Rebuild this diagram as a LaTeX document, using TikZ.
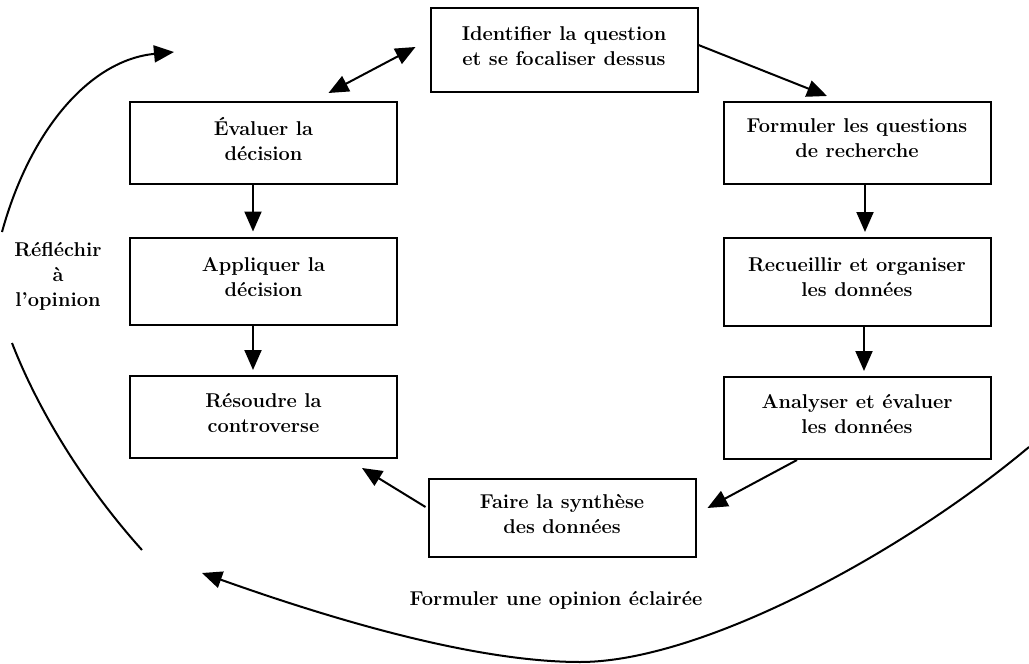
\documentclass[tikz,border=0pt]{standalone}
\usetikzlibrary{arrows.meta}
% strut that lifts a two-line box label slightly above the box centre
\newcommand{\liftpad}{\rule[-9pt]{0pt}{0pt}}
\begin{document}
\begin{tikzpicture}[x=1pt,y=-1pt,
  every node/.style={font=\fontsize{20}{25}\selectfont\bfseries},
  stepbox/.style={draw,line width=2pt,minimum width=267pt,minimum height=82pt,
    align=center,inner sep=0pt},
  label/.style={align=center,inner sep=0pt},
  arr/.style={line width=2pt,-{Triangle[length=20pt,width=17pt]}},
  darr/.style={line width=2pt,{Triangle[length=20pt,width=17pt]}-{Triangle[length=20pt,width=17pt]}},
  loop/.style={line width=2pt}]
\useasboundingbox (0,0) rectangle (1029,664);

% boxes of the research cycle
\node[stepbox,minimum height=84pt] (ident) at (564,50) {Identifier la question\\et se focaliser dessus\liftpad};
\node[stepbox] (eval)  at (263.5,143) {Évaluer la\\décision\liftpad};
\node[stepbox,minimum height=87pt] (appl) at (263.5,281) {Appliquer la\\décision\liftpad};
\node[stepbox] (reso)  at (263.5,417) {Résoudre la\\controverse\liftpad};
\node[stepbox] (form)  at (857,143) {Formuler les questions\\de recherche\liftpad};
\node[stepbox,minimum height=88pt] (recu) at (857,282) {Recueillir et organiser\\les données\liftpad};
\node[stepbox] (anal)  at (857,418) {Analyser et évaluer\\les données\liftpad};
\node[stepbox,minimum height=78pt] (synt) at (562,518) {Faire la synthèse\\des données\liftpad};

% free labels
\node[label] (reflect) at (58,276) {Réfléchir\\à\\l'opinion};
\node[label] (opinion) at (556,600) {Formuler une opinion éclairée};

% arrows between the steps
\draw[darr] ([shift={(-14,-3)}]ident.west) -- ([shift={(65,-8)}]eval.north);
\draw[arr] ([shift={(0,-5)}]ident.east) -- ([shift={(-30,-5)}]form.north);
\draw[arr] ([xshift=-10.5]eval.south) -- ([shift={(-10.5,-5)}]appl.north);
\draw[arr] ([xshift=-10.5]appl.south) -- ([shift={(-10.5,-5)}]reso.north);
\draw[arr] ([xshift=8]form.south) -- ([shift={(8,-5)}]recu.north);
\draw[arr] ([xshift=7]recu.south) -- ([shift={(7,-5)}]anal.north);
\draw[arr] ([xshift=-60]anal.south) -- ([shift={(11,-10)}]synt.east);
\draw[arr] ([shift={(-2,-11)}]synt.west) -- ([shift={(-36,9)}]reso.south east);

% outer loop: reflecting on the opinion
\coordinate (lstart) at (2,232);
\coordinate (ltip) at (174,52);
\draw[loop,arr] (lstart) .. controls (30,130) and (90,60) .. (ltip);
\coordinate (mtop) at (12,343);
\coordinate (mbot) at (142,550);
\draw[loop] (mtop) .. controls (40,415) and (88,490) .. (mbot);
\coordinate (bstart) at (1029,447);
\coordinate (blow) at (580,662);
\coordinate (btip) at (202,573);
\draw[loop,arr] (bstart) .. controls (900,555) and (700,662) .. (blow)
  .. controls (470,662) and (320,615) .. (btip);
\end{tikzpicture}
\end{document}
